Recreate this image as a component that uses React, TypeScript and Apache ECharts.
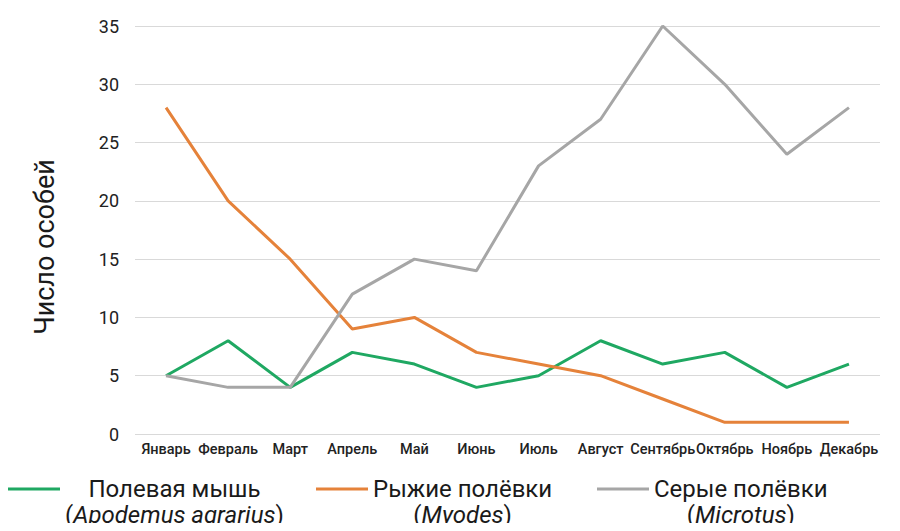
import React, { useEffect, useRef } from "react";
import * as echarts from "echarts";

const months = ["Январь", "Февраль", "Март", "Апрель", "Май", "Июнь", "Июль", "Август", "Сентябрь", "Октябрь", "Ноябрь", "Декабрь"];
const fieldMouse = [5, 8, 4, 7, 6, 4, 5, 8, 6, 7, 4, 6];
const redVoles = [28, 20, 15, 9, 10, 7, 6, 5, 3, 1, 1, 1];
const greyVoles = [5, 4, 4, 12, 15, 14, 23, 27, 35, 30, 24, 28];
const seriesNames = ["Полевая мышь", "Рыжие полёвки", "Серые полёвки"];
const latinNames = ["Apodemus agrarius", "Myodes", "Microtus"];
const colors = ["#1fa862", "#e5823a", "#a6a6a6"];
const yTicks = { min: 0, max: 35, interval: 5 };

export default function App() {
  const ref = useRef<HTMLDivElement>(null);
  useEffect(() => {
    const chart = echarts.init(ref.current!, undefined, { renderer: "svg" });
    const font = "Roboto, 'Noto Sans', sans-serif";
    const mk = (name: string, data: number[], color: string) => ({
      name,
      type: "line",
      data,
      symbol: "none",
      lineStyle: { color, width: 3 },
      itemStyle: { color },
    });
    const legendLefts = [8, 316, 597];
    const legends = seriesNames.map((n, idx) => ({
      left: legendLefts[idx],
      top: 451,
      padding: 0,
      itemWidth: 52,
      itemHeight: 3,
      icon: "rect",
      data: [n],
      formatter: (name: string) => {
        const i = seriesNames.indexOf(name);
        return `{s| }\n{a|${name}}\n{a|(}{i|${latinNames[i]}}{a|)}`;
      },
      textStyle: {
        rich: {
          s: { fontSize: 24, lineHeight: 26, align: "center" },
          a: { fontSize: 24, lineHeight: 26, color: "#1a1a1a", align: "center", fontFamily: font },
          i: { fontSize: 24, lineHeight: 26, color: "#1a1a1a", fontStyle: "italic", align: "center", fontFamily: font },
        },
      },
    }));
    chart.setOption({
      animation: false,
      textStyle: { fontFamily: font },
      grid: { left: 135, right: 20, top: 26, bottom: 97 },
      xAxis: {
        type: "category",
        data: months,
        boundaryGap: true,
        axisLine: { show: false },
        axisTick: { show: false },
        axisLabel: { interval: 0, color: "#222", fontSize: 14.5, fontWeight: 500, margin: 8, fontFamily: font },
      },
      yAxis: {
        type: "value",
        min: yTicks.min,
        max: yTicks.max,
        interval: yTicks.interval,
        axisLine: { show: false },
        axisTick: { show: false },
        splitLine: { lineStyle: { color: "#d9d9d9", width: 1 } },
        axisLabel: { color: "#222", fontSize: 18, margin: 16, fontFamily: font },
      },
      legend: legends,
      graphic: [
        {
          type: "text",
          x: 45,
          y: 247,
          rotation: Math.PI / 2,
          style: {
            text: "Число особей",
            fontSize: 27,
            fontFamily: font,
            fill: "#1a1a1a",
            align: "center",
            verticalAlign: "middle",
          },
        },
      ],
      series: [
        mk(seriesNames[0], fieldMouse, colors[0]),
        mk(seriesNames[1], redVoles, colors[1]),
        mk(seriesNames[2], greyVoles, colors[2]),
      ],
    });
    return () => chart.dispose();
  }, []);
  return <div ref={ref} style={{ width: 900, height: 531, margin: -8 }} />;
}
